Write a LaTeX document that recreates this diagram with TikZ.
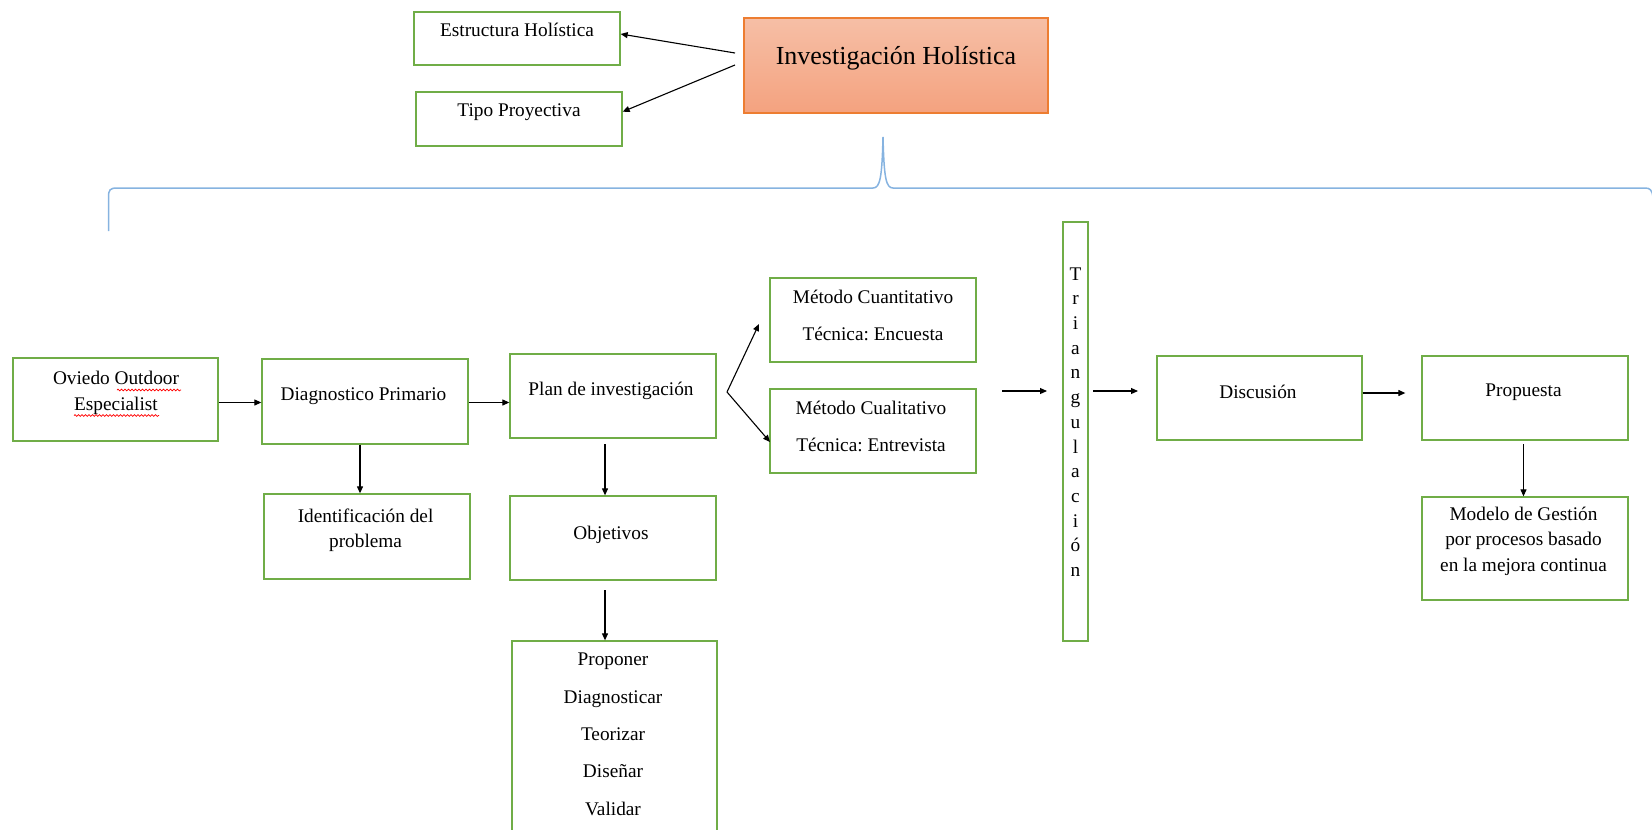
\documentclass[tikz,border=0pt]{standalone}
\usepackage{fontspec}
\setmainfont{Liberation Serif}
\frenchspacing
\usetikzlibrary{arrows.meta,decorations.pathmorphing}
\definecolor{boxgreen}{HTML}{70AD47}
\definecolor{bracecol}{HTML}{86B3E0}
\definecolor{orangeedge}{HTML}{ED7D31}
\definecolor{salmontop}{HTML}{F6BFA6}
\definecolor{salmonbot}{HTML}{F4A27F}
\tikzset{
  box/.style={draw=boxgreen, line width=1.3pt, inner sep=0pt, fill=white},
  txt/.style={inner sep=0pt, align=center, font=\fontsize{19.3}{25.5}\selectfont},
  arr/.style={draw=black, line width=1.1pt, -{Triangle[length=7pt,width=6pt]}},
  squiggle/.style={draw=red, line width=0.7pt, decorate,
    decoration={snake, amplitude=0.9pt, segment length=3.5pt}}
}
\begin{document}
\begin{tikzpicture}[x=1pt,y=-1pt]
\useasboundingbox (0,0) rectangle (1652,830);
\clip (0,0) rectangle (1652,830);

% ---- header ----
\node[draw=orangeedge, line width=1.3pt, inner sep=0pt,
      top color=salmontop, bottom color=salmonbot,
      minimum width=304pt, minimum height=95pt] (inv) at (896,65.5) {};
\node[txt, font=\fontsize{26}{30}\selectfont] (invT) at (896,58) {Investigación Holística};

\node[box, minimum width=206pt, minimum height=53pt] (est) at (517,38.5) {};
\node[txt] (estT) at (517,29.5) {Estructura Holística};
\node[box, minimum width=206pt, minimum height=54pt] (tipo) at (519,119) {};
\node[txt] (tipoT) at (519,111.7) {Tipo Proyectiva};

\coordinate (invA) at (735,53);
\coordinate (invB) at (735,65);
\draw[arr] (invA) -- (est.east |- 0,34);
\draw[arr] (invB) -- (tipo.east |- 0,111.7);

% ---- brace ----
\draw[bracecol, line width=1.5pt]
  (108.5,231) -- (108.5,197)
  .. controls (108.5,190) and (110,188) .. (117,188)
  -- (873,188)
  .. controls (880,188) and (882,178) .. (883,137)
  .. controls (884,178) and (886,188) .. (893,188)
  -- (1645,188)
  .. controls (1650,188) and (1652,190) .. (1653,197);

% ---- main row ----
\node[box, minimum width=205pt, minimum height=83pt] (ovi) at (115.5,399.5) {};
\node[txt] (oviT) at (116,393) {Oviedo Outdoor\\Especialist};
\draw[squiggle] (117,390) -- (181,390);
\draw[squiggle] (74,415.5) -- (159,415.5);

\node[box, minimum width=206pt, minimum height=85pt] (diag) at (365,401.5) {};
\node[txt] (diagT) at (363.5,396) {Diagnostico Primario};

\node[box, minimum width=206pt, minimum height=84pt] (plan) at (613,396) {};
\node[txt] (planT) at (611,391) {Plan de investigación};

\node[box, minimum width=206pt, minimum height=85pt] (ident) at (367,536.5) {};
\node[txt] (identT) at (365.6,530.5) {Identificación del\\problema};

\node[box, minimum width=206pt, minimum height=84pt] (obj) at (613,538) {};
\node[txt] (objT) at (611,535) {Objetivos};

\node[box, minimum width=205pt, minimum height=209pt] (verbs) at (614.5,745.5) {};
\node[txt, font=\fontsize{19.3}{37.4}\selectfont] (verbsT) at (613,734.4)
  {Proponer\\Diagnosticar\\Teorizar\\Diseñar\\Validar};

\node[box, minimum width=206pt, minimum height=84pt] (cuant) at (873,320) {};
\node[txt, font=\fontsize{19.3}{37}\selectfont] (cuantT) at (873,315.5)
  {Método Cuantitativo\\Técnica: Encuesta};
\node[box, minimum width=206pt, minimum height=84pt] (cual) at (873,431) {};
\node[txt, font=\fontsize{19.3}{37}\selectfont] (cualT) at (871,426.5)
  {Método Cualitativo\\Técnica: Entrevista};

\node[box, minimum width=25pt, minimum height=419pt] (tri) at (1075.5,431.5) {};
\node[txt, font=\fontsize{19.3}{24.7}\selectfont] (triT) at (1075.5,422)
  {T\\r\\i\\a\\n\\g\\u\\l\\a\\c\\i\\ó\\n};

\node[box, minimum width=205pt, minimum height=84pt] (disc) at (1259.5,398) {};
\node[txt] (discT) at (1258,392) {Discusión};
\node[box, minimum width=206pt, minimum height=84pt] (propu) at (1525,398) {};
\node[txt] (propuT) at (1523.5,392) {Propuesta};
\node[box, minimum width=206pt, minimum height=103pt] (mod) at (1525,548.5) {};
\node[txt] (modT) at (1523.5,541)
  {Modelo de Gestión\\por procesos basado\\en la mejora continua};

% ---- connectors ----
\draw[arr] (ovi.east |- 0,402.5) -- (diag.west |- 0,402.5);
\draw[arr] (diag.east |- 0,402.5) -- (plan.west |- 0,402.5);
\draw[arr] ([xshift=-5pt]diag.south) -- ([xshift=-7pt]ident.north);
\draw[arr] ([xshift=-8pt]plan.south |- 0,444) -- ([xshift=-8pt]obj.north);
\draw[arr] ([xshift=-8pt]obj.south |- 0,590) -- ([xshift=-9.5pt]verbs.north);

\coordinate (planV) at (727,392);
\coordinate (cuantTip) at (759,324);
\coordinate (cualTip) at (770,442);
\draw[arr] (planV) -- (cuantTip);
\draw[arr] (planV) -- (cualTip);

\coordinate (triIn) at (1002,391);
\coordinate (triInTip) at (1047,391);
\coordinate (triOut) at (1093,391);
\coordinate (triOutTip) at (1138,391);
\draw[arr] (triIn) -- (triInTip);
\draw[arr] (triOut) -- (triOutTip);

\draw[arr] (disc.east |- 0,393) -- ([xshift=-16pt]propu.west |- 0,393);
\draw[arr] ([xshift=-1.5pt]propu.south |- 0,444) -- ([xshift=-1.5pt]mod.north);
\end{tikzpicture}
\end{document}
